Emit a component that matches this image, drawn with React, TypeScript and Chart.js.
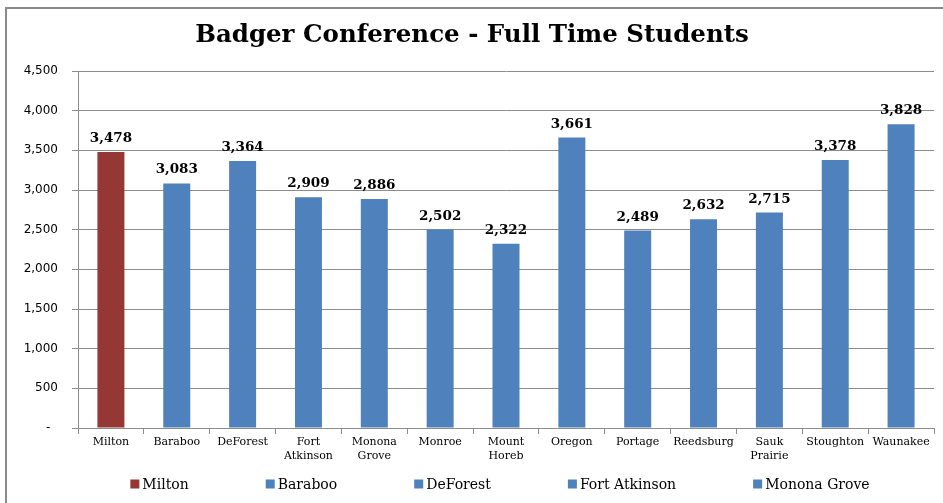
import React, { useEffect, useRef } from "react";
import { Chart, registerables } from "chart.js";

Chart.register(...registerables);

const categories: string[][] = [
  ["Milton"],
  ["Baraboo"],
  ["DeForest"],
  ["Fort", "Atkinson"],
  ["Monona", "Grove"],
  ["Monroe"],
  ["Mount", "Horeb"],
  ["Oregon"],
  ["Portage"],
  ["Reedsburg"],
  ["Sauk", "Prairie"],
  ["Stoughton"],
  ["Waunakee"],
];

const students: number[] = [3478, 3083, 3364, 2909, 2886, 2502, 2322, 3661, 2489, 2632, 2715, 3378, 3828];

const yTickValues: number[] = [0, 500, 1000, 1500, 2000, 2500, 3000, 3500, 4000, 4500];

const legendCount = 5;

const TITLE = "Badger Conference - Full Time Students";
const RED = "#953735";
const BLUE = "#4F81BD";
const GRID = "#8c8c8c";
const SERIF = "'DejaVu Serif', serif";

const barColors = categories.map((_, i) => (i === 0 ? RED : BLUE));

const frame = {
  id: "frame",
  beforeDraw(chart: any) {
    const ctx = chart.ctx;
    ctx.save();
    ctx.fillStyle = "#fff";
    ctx.fillRect(0, 0, chart.width, chart.height);
    ctx.strokeStyle = "#8a8a8a";
    ctx.lineWidth = 2;
    ctx.beginPath();
    ctx.moveTo(6, chart.height + 5);
    ctx.lineTo(6, 8);
    ctx.lineTo(chart.width + 5, 8);
    ctx.stroke();
    ctx.restore();
  },
};

const valueLabels = {
  id: "valueLabels",
  afterDatasetsDraw(chart: any) {
    const ctx = chart.ctx;
    const meta = chart.getDatasetMeta(0);
    ctx.save();
    ctx.font = `bold 13.5px ${SERIF}`;
    ctx.fillStyle = "#000";
    ctx.textAlign = "center";
    ctx.textBaseline = "alphabetic";
    meta.data.forEach((el: any, i: number) => {
      ctx.fillText(students[i].toLocaleString("en-US"), el.x, el.y - 10);
    });
    ctx.restore();
  },
};

const bottomLegend = {
  id: "bottomLegend",
  afterDraw(chart: any) {
    const ctx = chart.ctx;
    ctx.save();
    ctx.font = `14px ${SERIF}`;
    const box = 9;
    const boxGap = 3;
    const itemGap = 77;
    const names = categories.slice(0, legendCount).map((c) => c.join(" "));
    const widths = names.map((n) => box + boxGap + ctx.measureText(n).width);
    const total = widths.reduce((a, b) => a + b, 0) + itemGap * (names.length - 1);
    let x = 500 - total / 2;
    const cy = 484;
    names.forEach((n, i) => {
      ctx.fillStyle = barColors[i];
      ctx.fillRect(x, cy - box / 2, box, box);
      ctx.fillStyle = "#000";
      ctx.textAlign = "left";
      ctx.textBaseline = "middle";
      ctx.fillText(n, x + box + boxGap, cy + 1);
      x += widths[i] + itemGap;
    });
    ctx.restore();
  },
};

export default function App() {
  const ref = useRef<HTMLCanvasElement | null>(null);

  useEffect(() => {
    if (!ref.current) return;
    const chart = new Chart(ref.current, {
      type: "bar",
      data: {
        labels: categories,
        datasets: [
          {
            label: "Full Time Students",
            data: students,
            backgroundColor: barColors,
            borderWidth: 0,
            barPercentage: 0.41,
            categoryPercentage: 1,
          },
        ],
      },
      options: {
        responsive: false,
        animation: false,
        layout: { padding: { left: 10, right: 9, top: 0, bottom: 35 } },
        plugins: {
          legend: { display: false },
          tooltip: { enabled: false },
          title: {
            display: true,
            text: TITLE,
            color: "#000",
            font: { family: SERIF, size: 24.5, weight: "bold" },
            padding: { top: 21, bottom: 20.6 },
          },
        },
        scales: {
          x: {
            grid: {
              display: true,
              drawOnChartArea: false,
              offset: true,
              tickLength: 6,
              color: GRID,
            },
            border: { color: GRID },
            ticks: {
              color: "#000",
              font: { family: SERIF, size: 11 },
              padding: 2,
              maxRotation: 0,
              autoSkip: false,
            },
            afterFit: (s: any) => {
              s.height = 40;
            },
          },
          y: {
            min: yTickValues[0],
            max: yTickValues[yTickValues.length - 1],
            afterBuildTicks: (s: any) => {
              s.ticks = yTickValues.map((v) => ({ value: v }));
            },
            ticks: {
              color: "#000",
              font: { family: "'DejaVu Sans', sans-serif", size: 12 },
              padding: 14,
              callback: (v: any) => (Number(v) === 0 ? "-  " : Number(v).toLocaleString("en-US")),
            },
            grid: { color: GRID, tickLength: 6 },
            border: { color: GRID },
            afterFit: (s: any) => {
              s.width = 68;
            },
          },
        },
      },
      plugins: [frame, valueLabels, bottomLegend],
    });
    return () => chart.destroy();
  }, []);

  return (
    <div
      style={{
        position: "fixed",
        left: 0,
        top: 0,
        width: 943,
        height: 503,
        overflow: "hidden",
        background: "#fff",
      }}
    >
      <canvas
        ref={ref}
        width={943}
        height={503}
        style={{ position: "absolute", left: 0, top: 0, display: "block" }}
      />
    </div>
  );
}
